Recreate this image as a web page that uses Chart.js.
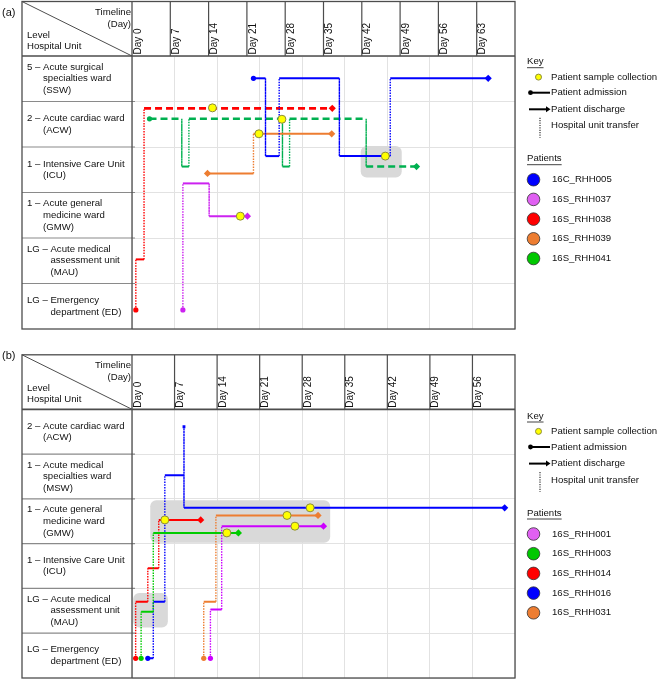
<!DOCTYPE html>
<html>
<head>
<meta charset="utf-8">
<script src="https://cdn.jsdelivr.net/npm/chart.js@4.4.1/dist/chart.umd.min.js"></script>
<style>
  html, body { margin: 0; padding: 0; background: #fff; }
  #wrap { position: relative; width: 660px; height: 683px; }
  canvas { position: absolute; left: 0; }
</style>
</head>
<body>
<div id="wrap">
  <canvas id="chartA" width="660" height="340" style="top:0"></canvas>
  <canvas id="chartB" width="660" height="343" style="top:340px"></canvas>
</div>
<script>
// ---------- panel (a) ----------
const headerDaysA = [0, 7, 14, 21, 28, 35, 42, 49, 56, 63];
// hospital units, level 0 (bottom row) upwards
const unitLabelsA = [
    ["LG – Emergency", "department (ED)"],
    ["LG – Acute medical", "assessment unit", "(MAU)"],
    ["1 – Acute general", "medicine ward", "(GMW)"],
    ["1 – Intensive Care Unit", "(ICU)"],
    ["2 – Acute cardiac ward", "(ACW)"],
    ["5 – Acute surgical", "specialties ward", "(SSW)"]
];
const patientsA = ["16C_RHH005", "16S_RHH037", "16S_RHH038", "16S_RHH039", "16S_RHH041"];

const rhh005Days = [22.2, 24.4, 24.4, 26.9, 26.9, 37.9, 37.9, 47.2, 47.2, 65.1];
const rhh005Levels = [5.51, 5.51, 3.80, 3.80, 5.51, 5.51, 3.80, 3.80, 5.51, 5.51];
const rhh037Days = [9.3, 9.3, 14.1, 14.1, 21.1];
const rhh037Levels = [0.42, 3.20, 3.20, 2.48, 2.48];
const rhh038Days = [0.7, 0.7, 2.2, 2.2, 36.6];
const rhh038Levels = [0.42, 1.53, 1.53, 4.85, 4.85];
const rhh039Days = [13.8, 22.2, 22.2, 36.5];
const rhh039Levels = [3.42, 3.42, 4.29, 4.29];
const rhh041Days = [3.2, 9.1, 9.1, 10.4, 10.4, 27.5, 27.5, 28.8, 28.8, 42.8, 42.8, 52.0];
const rhh041Levels = [4.62, 4.62, 3.57, 3.57, 4.62, 4.62, 3.57, 3.57, 4.62, 4.62, 3.57, 3.57];

const sampleDaysA = [46.3, 14.7, 27.4, 23.2, 19.8];
const sampleLevelsA = [3.80, 4.86, 4.61, 4.29, 2.48];

const boxDayFromA = [41.8];
const boxDayToA = [49.3];
const boxLevelLowA = [3.33];
const boxLevelHighA = [4.02];

// ---------- panel (b) ----------
const headerDaysB = [0, 7, 14, 21, 28, 35, 42, 49, 56];
const unitLabelsB = [
    ["LG – Emergency", "department (ED)"],
    ["LG – Acute medical", "assessment unit", "(MAU)"],
    ["1 – Intensive Care Unit", "(ICU)"],
    ["1 – Acute general", "medicine ward", "(GMW)"],
    ["1 – Acute medical", "specialties ward", "(MSW)"],
    ["2 – Acute cardiac ward", "(ACW)"]
];
const patientsB = ["16S_RHH001", "16S_RHH003", "16S_RHH014", "16S_RHH016", "16S_RHH031"];

const rhh001Days = [12.9, 12.9, 14.75, 14.75, 31.5];
const rhh001Levels = [0.44, 1.53, 1.53, 3.39, 3.39];
const rhh003Days = [1.5, 1.5, 3.5, 3.5, 17.5];
const rhh003Levels = [0.44, 1.48, 1.48, 3.24, 3.24];
const rhh014Days = [0.6, 0.6, 2.6, 2.6, 4.4, 4.4, 11.3];
const rhh014Levels = [0.44, 1.70, 1.70, 2.45, 2.45, 3.53, 3.53];
const rhh016Days = [2.6, 3.5, 3.5, 5.4, 5.4, 8.55, 8.55, 8.55, 61.3];
const rhh016Levels = [0.44, 0.44, 1.70, 1.70, 4.53, 4.53, 5.61, 3.80, 3.80];
const rhh031Days = [11.8, 11.8, 13.8, 13.8, 30.6];
const rhh031Levels = [0.44, 1.70, 1.70, 3.63, 3.63];

const sampleDaysB = [26.8, 15.6, 5.4, 29.3, 25.5];
const sampleLevelsB = [3.39, 3.24, 3.53, 3.80, 3.63];

const boxDayFromB = [3.0, 0.2];
const boxDayToB = [32.6, 5.9];
const boxLevelLowB = [3.02, 1.13];
const boxLevelHighB = [3.97, 1.90];

// ---------- drawing ----------
const FONT = '"Liberation Sans", Arial, sans-serif';
const TEXT = "#111";
const legendColors = {
    blue: "#0000ff", magenta: "#e060f2", red: "#ff0000", orange: "#ed7d31", green: "#00c800"
};

function pathDataset(days, levels, look) {
    const n = days.length;
    const dashed = look.dashed || [];
    const vert = c => c.p0.parsed.x === c.p1.parsed.x;
    return {
        type: "line",
        data: days.map((d, i) => ({x: d, y: levels[i]})),
        borderColor: look.color,
        backgroundColor: look.color,
        pointBackgroundColor: look.color,
        borderWidth: 2,
        tension: 0,
        fill: false,
        order: 2,
        segment: {
            borderDash: c => vert(c) ? [1.5, 1.2] : (dashed.includes(c.p0DataIndex) ? [7, 4] : []),
            borderWidth: c => vert(c) ? 1.4 : (dashed.includes(c.p0DataIndex) ? 2.6 : 2)
        },
        pointStyle: c => c.dataIndex === 0 ? (look.start || "circle") : (c.dataIndex === n - 1 ? "rectRot" : "rect"),
        pointRadius: c => {
            if (c.dataIndex === 0) return look.start === "rectRot" ? 3.6 : 2.6;
            if (c.dataIndex === n - 1) return 3.6;
            return c.dataIndex === look.mark ? 2 : 0;
        },
        pointBorderWidth: 0,
        pointHoverRadius: 0
    };
}

function sampleDataset(days, levels) {
    return {
        type: "scatter",
        data: days.map((d, i) => ({x: d, y: levels[i]})),
        pointRadius: 4,
        pointBackgroundColor: "#ffff00",
        pointBorderColor: "#8c8c3c",
        pointBorderWidth: 1,
        order: 0
    };
}

const boxPlugin = {
    id: "highlight",
    beforeDatasetsDraw(chart, args, opts) {
        const {ctx, scales: {x, y}} = chart;
        ctx.save();
        ctx.fillStyle = "#d9d9d9";
        opts.from.forEach((d, i) => {
            const x0 = x.getPixelForValue(d), x1 = x.getPixelForValue(opts.to[i]);
            const y0 = y.getPixelForValue(opts.high[i]), y1 = y.getPixelForValue(opts.low[i]);
            ctx.beginPath();
            ctx.roundRect(x0, y0, x1 - x0, y1 - y0, 6);
            ctx.fill();
        });
        ctx.restore();
    }
};

const tablePlugin = {
    id: "table",
    afterDraw(chart, args, opts) {
        const {ctx, chartArea: ca, scales: {x, y}} = chart;
        const left = 22, top = ca.top - 54.5;
        ctx.save();
        // row separators in unit column
        ctx.strokeStyle = "#8a8a8a";
        ctx.lineWidth = 1.2;
        for (let l = 1; l < 6; l++) {
            const py = y.getPixelForValue(l);
            ctx.beginPath();
            ctx.moveTo(left, py);
            ctx.lineTo(ca.left + 3, py);
            ctx.stroke();
        }
        ctx.strokeStyle = "#4d4d4d";
        // header day columns
        opts.days.forEach(d => {
            if (d === 0) return;
            const px = x.getPixelForValue(d);
            ctx.beginPath();
            ctx.moveTo(px, top);
            ctx.lineTo(px, ca.top);
            ctx.stroke();
        });
        // diagonal of corner cell
        ctx.lineWidth = 1;
        ctx.beginPath();
        ctx.moveTo(left, top);
        ctx.lineTo(ca.left, ca.top);
        ctx.stroke();
        // header bottom
        ctx.lineWidth = 1.7;
        ctx.beginPath();
        ctx.moveTo(left, ca.top);
        ctx.lineTo(ca.right, ca.top);
        ctx.stroke();
        // unit column edge and outer box
        ctx.lineWidth = 1.3;
        ctx.beginPath();
        ctx.moveTo(ca.left, top);
        ctx.lineTo(ca.left, ca.bottom);
        ctx.stroke();
        ctx.strokeRect(left, top, ca.right - left, ca.bottom - top);

        ctx.fillStyle = TEXT;
        ctx.textBaseline = "middle";
        ctx.font = "9.6px " + FONT;
        // corner texts
        ctx.textAlign = "right";
        ctx.fillText("Timeline", ca.left - 1, top + 11);
        ctx.fillText("(Day)", ca.left - 1, top + 23);
        ctx.textAlign = "left";
        ctx.fillText("Level", left + 5, top + 33.8);
        ctx.fillText("Hospital Unit", left + 5, top + 44.8);
        // unit labels
        opts.units.forEach((lines, l) => {
            const cy = y.getPixelForValue(l + 0.5);
            const prefix = lines[0].slice(0, lines[0].indexOf("–") + 2);
            const indent = ctx.measureText(prefix).width;
            const lh = 11.6;
            lines.forEach((t, k) => {
                const ty = cy + (k - (lines.length - 1) / 2) * lh;
                ctx.fillText(t, left + 5 + (k === 0 ? 0 : indent), ty);
            });
        });
        // day headers
        ctx.font = "10px " + FONT;
        ctx.textBaseline = "alphabetic";
        opts.days.forEach(d => {
            const px = x.getPixelForValue(d);
            ctx.save();
            ctx.translate(px + 8.6, ca.top - 1.5);
            ctx.rotate(-Math.PI / 2);
            ctx.fillText("Day " + d, 0, 0);
            ctx.restore();
        });
        // panel letter
        ctx.font = "11px " + FONT;
        ctx.textBaseline = "middle";
        ctx.fillText(opts.letter, 2, opts.letterY);
        ctx.restore();
    }
};

const keyPlugin = {
    id: "key",
    afterDraw(chart, args, opts) {
        const ctx = chart.ctx;
        const x0 = 527, t = opts.top;
        ctx.save();
        ctx.font = "9.6px " + FONT;
        ctx.fillStyle = TEXT;
        ctx.strokeStyle = TEXT;
        ctx.textBaseline = "middle";
        ctx.textAlign = "left";
        const heading = (txt, yy) => {
            ctx.fillStyle = TEXT;
            ctx.fillText(txt, x0, yy);
            const w = ctx.measureText(txt).width;
            ctx.lineWidth = 0.8;
            ctx.beginPath();
            ctx.moveTo(x0, yy + 6);
            ctx.lineTo(x0 + w, yy + 6);
            ctx.stroke();
        };
        heading("Key", t);
        // sample collection
        let yy = t + 15.4;
        ctx.fillStyle = "#ffff00";
        ctx.strokeStyle = "#8c8c3c";
        ctx.lineWidth = 1;
        ctx.beginPath();
        ctx.arc(538.5, yy, 3, 0, Math.PI * 2);
        ctx.fill();
        ctx.stroke();
        ctx.fillStyle = TEXT;
        ctx.fillText("Patient sample collection", 551, yy);
        // admission
        yy = t + 31;
        ctx.strokeStyle = "#000";
        ctx.lineWidth = 2;
        ctx.beginPath();
        ctx.moveTo(530, yy);
        ctx.lineTo(550, yy);
        ctx.stroke();
        ctx.fillStyle = "#000";
        ctx.beginPath();
        ctx.arc(530.5, yy, 2.4, 0, Math.PI * 2);
        ctx.fill();
        ctx.fillStyle = TEXT;
        ctx.fillText("Patient admission", 551, yy);
        // discharge
        yy = t + 47.6;
        ctx.beginPath();
        ctx.moveTo(529, yy);
        ctx.lineTo(547, yy);
        ctx.stroke();
        ctx.fillStyle = "#000";
        ctx.beginPath();
        ctx.moveTo(546, yy - 3);
        ctx.lineTo(550.5, yy);
        ctx.lineTo(546, yy + 3);
        ctx.closePath();
        ctx.fill();
        ctx.fillStyle = TEXT;
        ctx.fillText("Patient discharge", 551, yy);
        // transfer
        yy = t + 64;
        ctx.lineWidth = 1.2;
        ctx.setLineDash([1.2, 1.2]);
        ctx.strokeStyle = "#333";
        ctx.beginPath();
        ctx.moveTo(540, yy - 8);
        ctx.lineTo(540, yy + 12);
        ctx.stroke();
        ctx.setLineDash([]);
        ctx.strokeStyle = TEXT;
        ctx.fillText("Hospital unit transfer", 551, yy);
        // patients
        heading("Patients", t + 97);
        opts.names.forEach((nm, i) => {
            const cy = t + 118 + i * 19.7;
            ctx.fillStyle = opts.colors[i];
            ctx.strokeStyle = "#333";
            ctx.lineWidth = 0.8;
            ctx.beginPath();
            ctx.arc(533.5, cy, 6.3, 0, Math.PI * 2);
            ctx.fill();
            ctx.stroke();
            ctx.fillStyle = TEXT;
            ctx.fillText(nm, 552, cy);
        });
        ctx.restore();
    }
};

function makePanel(id, p) {
    const grid = {color: "#e2e2e2", lineWidth: 1, drawTicks: false};
    return new Chart(id, {
        type: "line",
        data: {datasets: [sampleDataset(p.sampleDays, p.sampleLevels)].concat(p.paths)},
        options: {
            responsive: false,
            animation: false,
            devicePixelRatio: 1,
            events: [],
            layout: {padding: {left: 132, top: p.padTop, right: 145, bottom: p.padBottom}},
            plugins: {
                legend: {display: false},
                tooltip: {enabled: false},
                highlight: {from: p.boxFrom, to: p.boxTo, low: p.boxLow, high: p.boxHigh},
                table: {days: p.days, units: p.units, letter: p.letter, letterY: p.letterY},
                key: {top: p.keyTop, names: p.names, colors: p.colors}
            },
            scales: {
                x: {
                    type: "linear", min: 0, max: p.maxDay,
                    ticks: {display: false, stepSize: p.gridStep},
                    grid: grid, border: {display: false},
                    afterFit: s => { s.height = 0; }
                },
                y: {
                    type: "linear", min: 0, max: 6,
                    ticks: {display: false, stepSize: 1},
                    grid: grid, border: {display: false},
                    afterFit: s => { s.width = 0; }
                }
            }
        },
        plugins: [boxPlugin, tablePlugin, keyPlugin]
    });
}

makePanel("chartA", {
    days: headerDaysA, units: unitLabelsA, maxDay: 70, gridStep: 70 / 9,
    padTop: 56, padBottom: 11, letter: "(a)", letterY: 13, keyTop: 61.7,
    names: patientsA,
    colors: [legendColors.blue, legendColors.magenta, legendColors.red, legendColors.orange, legendColors.green],
    sampleDays: sampleDaysA, sampleLevels: sampleLevelsA,
    boxFrom: boxDayFromA, boxTo: boxDayToA, boxLow: boxLevelLowA, boxHigh: boxLevelHighA,
    paths: [
        pathDataset(rhh005Days, rhh005Levels, {color: "#0000ff"}),
        pathDataset(rhh037Days, rhh037Levels, {color: "#cc22f0"}),
        pathDataset(rhh038Days, rhh038Levels, {color: "#ff0000", dashed: [3]}),
        pathDataset(rhh039Days, rhh039Levels, {color: "#ed7d31", start: "rectRot"}),
        pathDataset(rhh041Days, rhh041Levels, {color: "#00b050", dashed: [0, 4, 8, 10]})
    ]
});

makePanel("chartB", {
    days: headerDaysB, units: unitLabelsB, maxDay: 63, gridStep: 7,
    padTop: 69.3, padBottom: 2, letter: "(b)", letterY: 16, keyTop: 76,
    names: patientsB,
    colors: [legendColors.magenta, legendColors.green, legendColors.red, legendColors.blue, legendColors.orange],
    sampleDays: sampleDaysB, sampleLevels: sampleLevelsB,
    boxFrom: boxDayFromB, boxTo: boxDayToB, boxLow: boxLevelLowB, boxHigh: boxLevelHighB,
    paths: [
        pathDataset(rhh001Days, rhh001Levels, {color: "#cc00ff"}),
        pathDataset(rhh003Days, rhh003Levels, {color: "#00cc00"}),
        pathDataset(rhh014Days, rhh014Levels, {color: "#ff0000"}),
        pathDataset(rhh016Days, rhh016Levels, {color: "#0000ff", mark: 6}),
        pathDataset(rhh031Days, rhh031Levels, {color: "#ed7d31"})
    ]
});
</script>
</body>
</html>
